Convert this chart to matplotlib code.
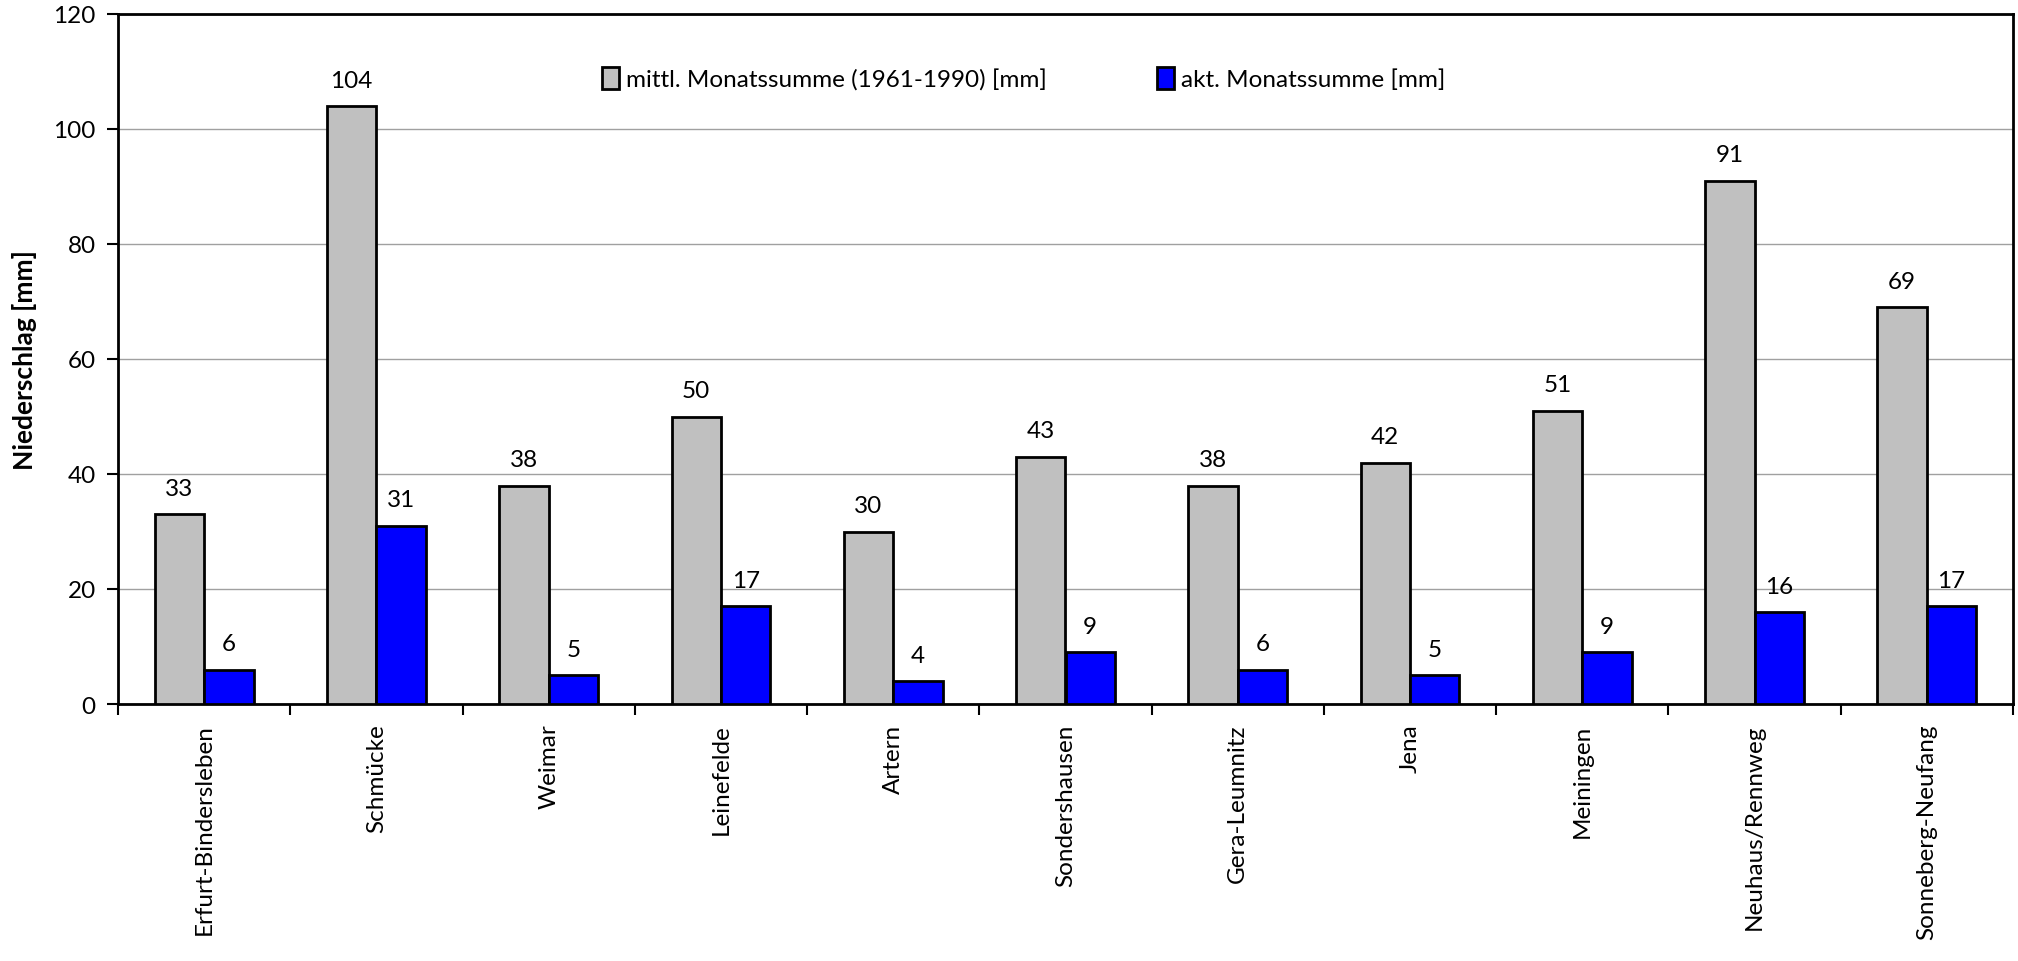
import matplotlib
matplotlib.use("Agg")
import matplotlib.pyplot as plt
import numpy as np

stations = ["Erfurt-Bindersleben", "Schmücke", "Weimar", "Leinefelde", "Artern",
            "Sondershausen", "Gera-Leumnitz", "Jena", "Meiningen", "Neuhaus/Rennweg",
            "Sonneberg-Neufang"]
mean_1961_1990 = [33, 104, 38, 50, 30, 43, 38, 42, 51, 91, 69]
actual = [6, 31, 5, 17, 4, 9, 6, 5, 9, 16, 17]
series_labels = ["mittl. Monatssumme (1961-1990) [mm]", "akt. Monatssumme [mm]"]
y_label = "Niederschlag [mm]"

plt.rcParams['font.family'] = ['Lato', 'DejaVu Sans']

fig = plt.figure(figsize=(20.18, 9.62), dpi=100)
ax = fig.add_axes([118/2018, 1 - 705/962, (2013-118)/2018, (705-15)/962])

x = np.arange(len(stations))
w = 0.287
b1 = ax.bar(x - w/2, mean_1961_1990, w, color="#c0c0c0", edgecolor="black", linewidth=2,
            label=series_labels[0], zorder=3)
b2 = ax.bar(x + w/2, actual, w, color="#0000ff", edgecolor="black", linewidth=2,
            label=series_labels[1], zorder=3)
for bars, vals in ((b1, mean_1961_1990), (b2, actual)):
    for r, v in zip(bars, vals):
        ax.annotate(str(v), (r.get_x() + r.get_width()/2, v), xytext=(0, 11),
                    textcoords="offset points", ha="center", va="bottom", fontsize=17.5)

ax.set_xlim(-0.5, len(stations) - 0.5)
ax.set_ylim(0, 120)
ax.set_yticks(np.arange(0, 121, 20))
ax.yaxis.grid(True, color="#a0a0a0", linewidth=1, zorder=0)
ax.set_axisbelow(True)
ax.set_xticks(x)
ax.set_xticklabels(stations, rotation=90, fontsize=17.5)
ax.set_xticks(np.arange(-0.5, len(stations) + 0.5, 1), minor=True)
ax.tick_params(axis="x", which="major", length=0, pad=14)
ax.tick_params(axis="x", which="minor", length=8, width=1.5, direction="out")
ax.tick_params(axis="y", length=8, width=1.5, direction="out", labelsize=17.5, pad=8)
for s in ax.spines.values():
    s.set_linewidth(2)
    s.set_color("black")
ax.set_ylabel(y_label, fontsize=19, fontweight="bold", labelpad=12)

ax.legend(loc="upper center", bbox_to_anchor=(0.478, 0.955), ncol=2, frameon=False,
          fontsize=17.5, handlelength=0.7, handleheight=1.0, handletextpad=0.3,
          columnspacing=4.5)

fig.savefig("out.png", dpi=100)
